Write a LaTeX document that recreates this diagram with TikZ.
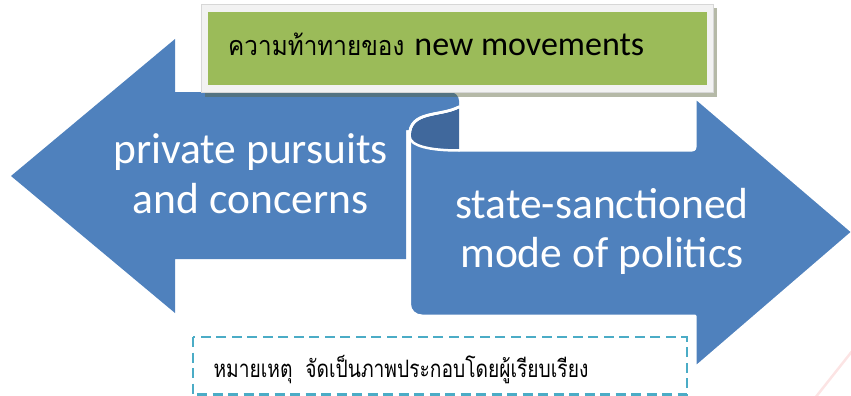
\documentclass[tikz,border=0pt]{standalone}
\usepackage{graphicx}
\usepackage{fontspec}
\newfontfamily\engfont{Carlito}
\newfontfamily\thaifont[Script=Thai]{Loma}
\definecolor{arrblue}{RGB}{79,129,189}
\definecolor{curldark}{RGB}{64,104,156}
\definecolor{boxgreen}{RGB}{155,187,89}
\definecolor{framegrey}{RGB}{242,242,242}
\definecolor{framebord}{RGB}{215,215,215}
\definecolor{shadowc}{RGB}{90,100,60}
\definecolor{dashc}{RGB}{75,172,198}
\definecolor{wmpink}{RGB}{252,228,228}
\tikzset{
  arrowshape/.style={fill=arrblue, draw=white, line width=3pt, line join=round},
  armtext/.style={text=white, font=\engfont\fontsize{43.5}{50}\selectfont, inner sep=0pt, anchor=base},
}
\begin{document}
\begin{tikzpicture}[x=1pt,y=-1pt]
\useasboundingbox (0,0) rectangle (851,396);
% faint watermark stroke
\draw[wmpink, line width=2.5pt] (815,398) -- (853,350);
% left arrow
\fill[arrblue] (11,176) -- (175,39) -- (175,92) -- (450,92)
  .. controls (455,92) and (459,96) .. (459,101) -- (459,130) -- (406,130)
  -- (406,259) -- (175,259) -- (175,313) -- cycle;
% right arrow with scroll
\path[arrowshape] (409.5,136) -- (409.5,304)
  .. controls (409.5,311) and (415,316) .. (422,316)
  -- (695,316) -- (695,368) -- (853,232) -- (695,97) -- (695,147)
  .. controls (695,149) and (694,150) .. (692,150)
  -- (459,150) -- (459,107)
  .. controls (440,117) and (409.5,110) .. (409.5,136) -- cycle;
% dark inside of the curl
\fill[curldark] (459,108.5) .. controls (441,118) and (411,112) .. (411,136)
  .. controls (411,146) and (430,149) .. (459,149) -- cycle;
\draw[white, line width=2.5pt, line cap=round] (459,107) .. controls (440,117) and (409.5,110) .. (409.5,136)
  .. controls (409.5,146) and (430,150.5) .. (459,150.5);
% texts on arrows
\node[armtext] (pp) at (250.5,163) {private pursuits};
\node[armtext] (ac) at (250.5,213) {and concerns};
\node[armtext] (ss) at (602,218) {state-sanctioned};
\node[armtext] (mp) at (602,267) {mode of politics};
% title box with shadow
\fill[shadowc, opacity=0.45] (205,8) rectangle (716.5,96.5);
\filldraw[fill=framegrey, draw=framebord, line width=0.6pt] (201.7,4) rectangle (713,92.5);
\fill[boxgreen] (208,12.5) rectangle (706.7,84.5);
\node[anchor=base west, inner sep=0pt] (title) at (228,55.7)
  {\scalebox{0.9}[1]{\thaifont\fontsize{27}{30}\selectfont ความท้าทายของ}\hspace{10pt}\engfont\fontsize{34}{40}\selectfont new movements};
% note box
\draw[dashc, line width=2.3pt, dash pattern=on 10pt off 5.5pt] (192.7,337) rectangle (686.7,394.5);
\node[anchor=base west, inner sep=0pt] (note) at (213.3,377.7)
  {\scalebox{0.8}[1]{\thaifont\fontsize{24}{28}\selectfont หมายเหตุ\ \ จัดเป็นภาพประกอบโดยผู้เรียบเรียง}};
\end{tikzpicture}
\end{document}
